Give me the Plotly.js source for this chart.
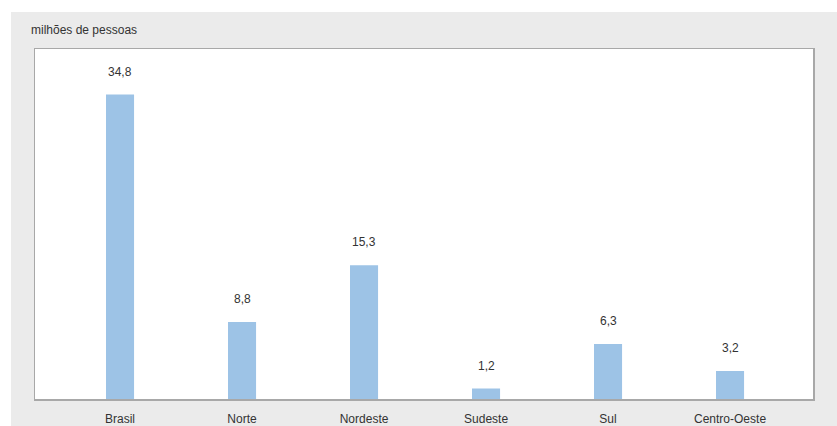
<!DOCTYPE html>
<html>
<head>
<meta charset="utf-8">
<script src="https://cdn.plot.ly/plotly-3.0.1.min.js"></script>
<style>
html,body{margin:0;padding:0;background:#ffffff;}
#bg{position:absolute;left:11px;top:12px;width:826px;height:414px;background:#ebebeb;}
#chart{position:absolute;left:0;top:0;width:837px;height:426px;}
</style>
</head>
<body>
<div id="bg"></div>
<div id="chart"></div>
<script>
const categories = ["Brasil", "Norte", "Nordeste", "Sudeste", "Sul", "Centro-Oeste"];
const values = [34.8, 8.8, 15.3, 1.2, 6.3, 3.2];
const chartTitle = "milhões de pessoas";

const fmt = v => v.toFixed(1).replace('.', ',');
const FONT = 'Liberation Sans, Arial, sans-serif';

const trace = {
  type: 'bar',
  x: categories,
  y: values,
  width: 0.23,
  marker: {color: '#9dc3e6', line: {width: 0}},
  hoverinfo: 'none'
};

const annotations = categories.map((c, i) => ({
  x: c, y: values[i], xref: 'x', yref: 'y',
  text: fmt(values[i]), showarrow: false,
  yanchor: 'bottom', yshift: 14,
  font: {family: FONT, size: 12, color: '#333333'}
}));
annotations.push({
  xref: 'paper', yref: 'paper', x: -0.008, y: 1.0, yshift: 19,
  xanchor: 'left', yanchor: 'middle', showarrow: false,
  text: chartTitle,
  font: {family: FONT, size: 12, color: '#333333'}
});

const layout = {
  width: 837, height: 426,
  margin: {l: 35, r: 24, t: 49, b: 27, pad: 0},
  paper_bgcolor: 'rgba(0,0,0,0)',
  plot_bgcolor: '#ffffff',
  showlegend: false,
  xaxis: {
    type: 'category',
    range: [-0.697, 5.68],
    showgrid: false, zeroline: false,
    showline: true, mirror: true, linecolor: '#a8a8a8', linewidth: 1.5,
    ticks: 'outside', ticklen: 8, tickcolor: 'rgba(0,0,0,0)',
    tickfont: {family: FONT, size: 12, color: '#333333'},
    fixedrange: true
  },
  yaxis: {
    range: [0, 40],
    showgrid: false, zeroline: false, showticklabels: false,
    showline: true, mirror: true, linecolor: '#a8a8a8', linewidth: 1.5,
    ticks: '', fixedrange: true
  },
  annotations: annotations
};

Plotly.newPlot('chart', [trace], layout, {displayModeBar: false, staticPlot: true});
</script>
</body>
</html>
